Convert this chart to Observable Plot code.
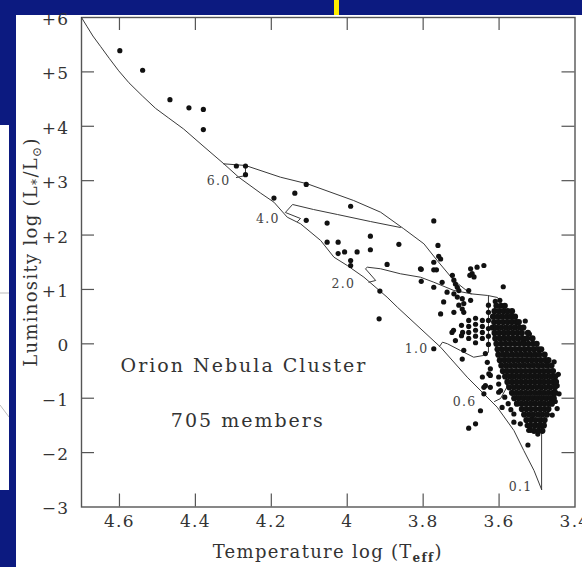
<!DOCTYPE html>
<html><head><meta charset="utf-8">
<script src="https://cdn.jsdelivr.net/npm/d3@7"></script>
<script src="https://cdn.jsdelivr.net/npm/@observablehq/plot@0.6"></script>
<style>
html,body{margin:0;padding:0;}
body{width:582px;height:567px;background:#0c1a80;position:relative;overflow:hidden;}
#panel{position:absolute;left:16px;top:15px;width:566px;height:552px;background:#fff;}
#side{position:absolute;left:0;top:125px;width:9px;height:365px;background:#fff;}
#yel{position:absolute;left:334px;top:0;width:5px;height:15px;background:#ffee00;}
#chart{position:absolute;left:0;top:0;}
#chart svg text{letter-spacing:1.3px;}
#chart svg .note text{letter-spacing:2px;}
</style></head><body>
<div id="side"><svg width="9" height="365"><line x1="0" y1="168" x2="9" y2="168" stroke="#bbb"/><line x1="0" y1="280" x2="9" y2="292" stroke="#bbb"/></svg></div>
<div id="panel"></div><div id="yel"></div><div id="chart"></div>
<script>
// axis ticks
const xTicks = [4.6, 4.4, 4.2, 4.0, 3.8, 3.6, 3.4];
const xTickText = ["4.6", "4.4", "4.2", "4", "3.8", "3.6", "3.4"];
const yTicks = [6, 5, 4, 3, 2, 1, 0, -1, -2, -3];
const yTickText = ["+6", "+5", "+4", "+3", "+2", "+1", "0", "\u22121", "\u22122", "\u22123"];

// evolutionary tracks [logTeff, logL]
const zams = [[4.700,6.000],[4.686,5.840],[4.670,5.660],[4.650,5.470],[4.627,5.250],[4.602,5.020],[4.575,4.800],[4.540,4.560],[4.505,4.330],[4.470,4.150],[4.431,3.950],[4.380,3.640],[4.325,3.310],[4.286,3.064],[4.228,2.770],[4.193,2.604],[4.158,2.328],[4.123,2.207],[4.070,1.900],[4.035,1.593],[4.000,1.440],[3.956,1.225],[3.895,0.858],[3.868,0.674],[3.754,-0.062],[3.684,-0.613],[3.605,-1.165],[3.561,-1.593],[3.535,-1.961],[3.508,-2.329],[3.488,-2.678]];
const birthline = [[4.326,3.310],[4.268,3.279],[4.176,3.064],[4.105,2.942],[3.983,2.635],[3.912,2.420],[3.851,2.115],[3.798,1.839],[3.763,1.532],[3.719,1.165],[3.675,0.920],[3.630,0.889],[3.604,0.852],[3.588,0.687],[3.570,0.521],[3.544,0.245],[3.488,-0.582]];
const track60 = [[4.268,3.279],[4.268,3.095],[4.292,3.058]];
const track40 = [[3.860,2.139],[3.939,2.249],[4.026,2.378],[4.089,2.470],[4.144,2.562],[4.163,2.415],[4.123,2.304],[4.131,2.249]];
const track20 = [[3.673,0.920],[3.719,0.981],[3.772,1.133],[3.807,1.225],[3.860,1.288],[3.912,1.380],[3.947,1.409],[3.952,1.380],[3.925,1.165],[3.943,1.133]];
const track10 = [[3.628,0.880],[3.628,-0.159],[3.641,-0.214],[3.667,-0.246],[3.702,-0.122],[3.736,0.001],[3.749,0.030],[3.757,-0.049]];
const track06 = [[3.580,0.503],[3.583,0.061],[3.583,-0.435],[3.580,-0.803],[3.596,-1.005],[3.612,-1.060]];
const track01 = [[3.488,-0.582],[3.488,-2.678]];

const trackNames = ["6.0", "4.0", "2.0", "1.0", "0.6", "0.1"];
const labelT = [4.339, 4.209, 4.010, 3.817, 3.691, 3.543];
const labelL = [3.003, 2.304, 1.109, -0.086, -1.078, -2.641];

// cluster members [logTeff, logL]
const scattered = [[4.599,5.39],[4.539,5.03],[4.467,4.49],[4.417,4.34],[4.379,4.31],[4.379,3.94],
[4.292,3.27],[4.268,3.27],[4.268,3.11],
[4.193,2.68],[4.138,2.77],[4.108,2.93],[4.108,2.27],[4.053,2.22],[3.991,2.53],
[4.053,1.87],[4.024,1.87],[4.024,1.66],[4.007,1.69],[3.974,1.69],[3.991,1.53],[3.991,1.44],
[3.939,1.98],[3.939,1.73],[3.864,1.83],[3.895,1.46],[3.807,1.38],[3.914,0.97],[3.916,0.46],
[3.772,2.26],[3.761,1.81],[3.759,1.61],[3.772,1.50],[3.754,1.56],[3.805,1.37],[3.772,1.36],[3.765,1.36],
[3.805,1.15],[3.750,1.13],[3.772,1.04],[3.723,1.26],[3.719,1.17],[3.715,1.10],[3.710,1.04],[3.706,0.98],
[3.737,0.95],[3.719,0.92],[3.710,0.86],[3.697,0.83],[3.746,0.77],[3.754,0.55],[3.719,0.58],[3.706,0.71],
[3.693,0.74],[3.675,0.80],[3.680,0.98],[3.671,1.29],[3.675,1.38],[3.658,1.41],[3.640,1.44],[3.666,1.23],
[3.697,0.64],[3.693,0.58],[3.589,1.05],[3.772,-0.09],[3.697,-0.28],[3.636,-0.18],[3.631,-0.34],
[3.623,-0.46],[3.627,-0.55],[3.601,-0.61],[3.640,-0.80],[3.623,-0.80],[3.596,-0.86],[3.644,-0.61],
[3.649,-1.23],[3.662,-1.47],[3.680,-1.55],[3.640,-0.92],[3.601,-0.89],[3.592,-1.17],[3.561,-1.29],
[3.561,-1.44],[3.544,-1.47],[3.526,-1.50],[3.524,-1.86],[3.522,-1.59],[3.447,-0.77],[3.447,-1.19],
[3.486,-1.50],[3.517,-1.59],[3.677,1.26],[3.623,-0.58],[3.636,-0.77],[3.601,-0.74],
[3.513,-1.38],[3.724,0.21],[3.696,0.21],[3.693,-0.12],
[3.455,-0.33],[3.444,-0.56],[3.442,-0.92],[3.452,-1.06],[3.460,-1.31],[3.498,-1.66],[3.536,0.06],
[3.531,0.42],[3.520,0.18],[3.585,-0.98],[3.576,-1.10],[3.569,-1.21],[3.610,0.78],[3.598,0.80]];
const columns = [[3.680,0.43],[3.680,0.32],[3.680,0.21],[3.680,0.10],
[3.662,0.47],[3.662,0.36],[3.662,0.25],[3.662,0.14],[3.662,0.02],
[3.644,0.43],[3.644,0.32],[3.644,0.21],[3.644,0.10],
[3.699,0.34],[3.699,0.15],[3.720,0.25],[3.715,0.06],
[3.628,0.71],[3.628,0.58],[3.628,0.43],[3.628,0.28],[3.628,0.14],[3.628,-0.01]];
// dense core: [logL, [logTeff ...]]
const coreRows = [
[0.7,[3.607,3.595,3.585]],
[0.6,[3.612,3.600,3.588,3.577,3.566]],
[0.5,[3.616,3.604,3.592,3.580,3.569,3.558]],
[0.4,[3.613,3.601,3.589,3.577,3.566,3.555,3.548]],
[0.3,[3.617,3.606,3.594,3.582,3.570,3.558,3.546,3.536]],
[0.2,[3.612,3.600,3.588,3.576,3.564,3.552,3.540,3.524]],
[0.1,[3.610,3.598,3.586,3.574,3.562,3.550,3.538,3.526,3.512]],
[0.0,[3.607,3.595,3.583,3.571,3.559,3.547,3.535,3.523,3.511,3.501]],
[-0.1,[3.604,3.592,3.580,3.568,3.556,3.544,3.532,3.520,3.508,3.496,3.489]],
[-0.2,[3.602,3.590,3.578,3.566,3.554,3.542,3.530,3.518,3.506,3.494,3.480]],
[-0.3,[3.598,3.586,3.574,3.562,3.550,3.538,3.526,3.514,3.502,3.490,3.478,3.470]],
[-0.4,[3.594,3.582,3.570,3.558,3.546,3.534,3.522,3.510,3.498,3.486,3.474,3.462]],
[-0.5,[3.590,3.578,3.566,3.554,3.542,3.530,3.518,3.506,3.494,3.482,3.470,3.458]],
[-0.6,[3.584,3.572,3.560,3.548,3.536,3.524,3.512,3.500,3.488,3.476,3.464,3.452]],
[-0.7,[3.578,3.566,3.554,3.542,3.530,3.518,3.506,3.494,3.482,3.470,3.458,3.450]],
[-0.8,[3.573,3.561,3.549,3.537,3.525,3.513,3.501,3.489,3.477,3.465,3.453]],
[-0.9,[3.566,3.554,3.542,3.530,3.518,3.506,3.494,3.482,3.470,3.458,3.452]],
[-1.0,[3.560,3.548,3.536,3.524,3.512,3.500,3.488,3.476,3.464,3.456]],
[-1.1,[3.553,3.541,3.529,3.517,3.505,3.493,3.481,3.469,3.461]],
[-1.2,[3.540,3.528,3.516,3.504,3.492,3.480,3.470]],
[-1.3,[3.534,3.522,3.510,3.498,3.486,3.474]],
[-1.4,[3.528,3.516,3.504,3.492,3.480]],
[-1.5,[3.518,3.506,3.494,3.482]],
[-1.6,[3.508,3.496,3.486]]
];

const noteText = ["Orion Nebula Cluster", "705 members"];
const noteT = [4.272, 4.262];
const noteL = [-0.398, -1.409];

// ---- build tables ----
const trackList = [zams, birthline, track60, track40, track20, track10, track06, track01];
const trackRows = trackList.flatMap((tr, i) => tr.map(([t, l]) => ({id: i, t, l})));
const outer = [...scattered, ...columns].map(([t, l]) => ({t, l}));
const core = coreRows.flatMap(([l, ts]) => ts.map(t => ({t, l})));
const labels = trackNames.map((s, i) => ({s, t: labelT[i], l: labelL[i]}));
const notes = noteText.map((s, i) => ({s, t: noteT[i], l: noteL[i]}));

const W = 582, H = 567, mL = 81, mR = 7.5, mT = 17, mB = 60.5;
const pw = W - mL - mR, ph = H - mT - mB, tk = 13;
const innerX = xTicks.slice(0, -1), innerY = yTicks.slice(1, -1);
const ink = "#333";

const chart = Plot.plot({
  width: W, height: H,
  marginLeft: mL, marginRight: mR, marginTop: mT, marginBottom: mB,
  x: {domain: [4.7, 3.4], axis: null},
  y: {domain: [-3, 6], axis: null},
  style: {background: "transparent", overflow: "visible", fontFamily: "'DejaVu Serif', serif", color: ink},
  marks: [
    Plot.ruleX(innerX, {x: d => d, insetTop: ph - tk, stroke: "#555", strokeWidth: 1.2}),
    Plot.ruleX(innerX, {x: d => d, insetBottom: ph - tk, stroke: "#555", strokeWidth: 1.2}),
    Plot.ruleY(innerY, {y: d => d, insetRight: pw - tk, stroke: "#555", strokeWidth: 1.2}),
    Plot.ruleY(innerY, {y: d => d, insetLeft: pw - tk, stroke: "#555", strokeWidth: 1.2}),
    Plot.frame({stroke: "#555", strokeWidth: 1.4}),
    Plot.line(trackRows, {x: "t", y: "l", z: "id", stroke: "#3a3a3a", strokeWidth: 1}),
    Plot.dot(outer, {x: "t", y: "l", r: 2.6, fill: "#111", stroke: null}),
    Plot.dot(core, {x: "t", y: "l", r: 3.1, fill: "#111", stroke: null}),
    Plot.text(labels, {x: "t", y: "l", text: "s", fontSize: 12.5, fill: "#444"}),
    Plot.text(notes, {x: "t", y: "l", text: "s", fontSize: 19, fill: ink, className: "note"}),
    Plot.text(xTicks, {x: d => d, text: (d, i) => xTickText[i], frameAnchor: "bottom", dy: 20, fontSize: 17, fill: ink}),
    Plot.text(yTicks, {y: d => d, text: (d, i) => yTickText[i], frameAnchor: "left", dx: -12, dy: 2, textAnchor: "end", fontSize: 17, fill: ink})
  ]
});
document.getElementById("chart").appendChild(chart);
// wider tracking for the cluster annotation
d3.select(chart).selectAll("text").filter(function () { return this.getAttribute("font-size") === "19"; })
  .style("letter-spacing", "2px");
d3.select(chart).selectAll("g").filter(function () { return this.getAttribute("font-size") === "19"; })
  .selectAll("text").style("letter-spacing", "2px");

// axis titles with subscripts
const svg = d3.select(chart);
const xt = svg.append("text").attr("x", mL + pw / 2).attr("y", 558).attr("text-anchor", "middle")
  .attr("font-size", 18).attr("fill", ink).attr("font-family", "'DejaVu Serif', serif");
xt.append("tspan").text("Temperature log (T");
xt.append("tspan").attr("dy", 4).attr("font-size", 12).attr("font-weight", "bold").text("eff");
xt.append("tspan").attr("dy", -4).text(")");

const yt = svg.append("text").attr("transform", "translate(37,252) rotate(-90)").attr("text-anchor", "middle")
  .attr("font-size", 18).attr("fill", ink).attr("font-family", "'DejaVu Serif', serif");
yt.append("tspan").text("Luminosity log (L");
yt.append("tspan").attr("dy", 4).attr("font-size", 12).text("*");
yt.append("tspan").attr("dy", -4).text("/L");
yt.append("tspan").attr("dy", 4).attr("font-size", 12).text("\u2299");
yt.append("tspan").attr("dy", -4).text(")");
</script>
</body></html>
